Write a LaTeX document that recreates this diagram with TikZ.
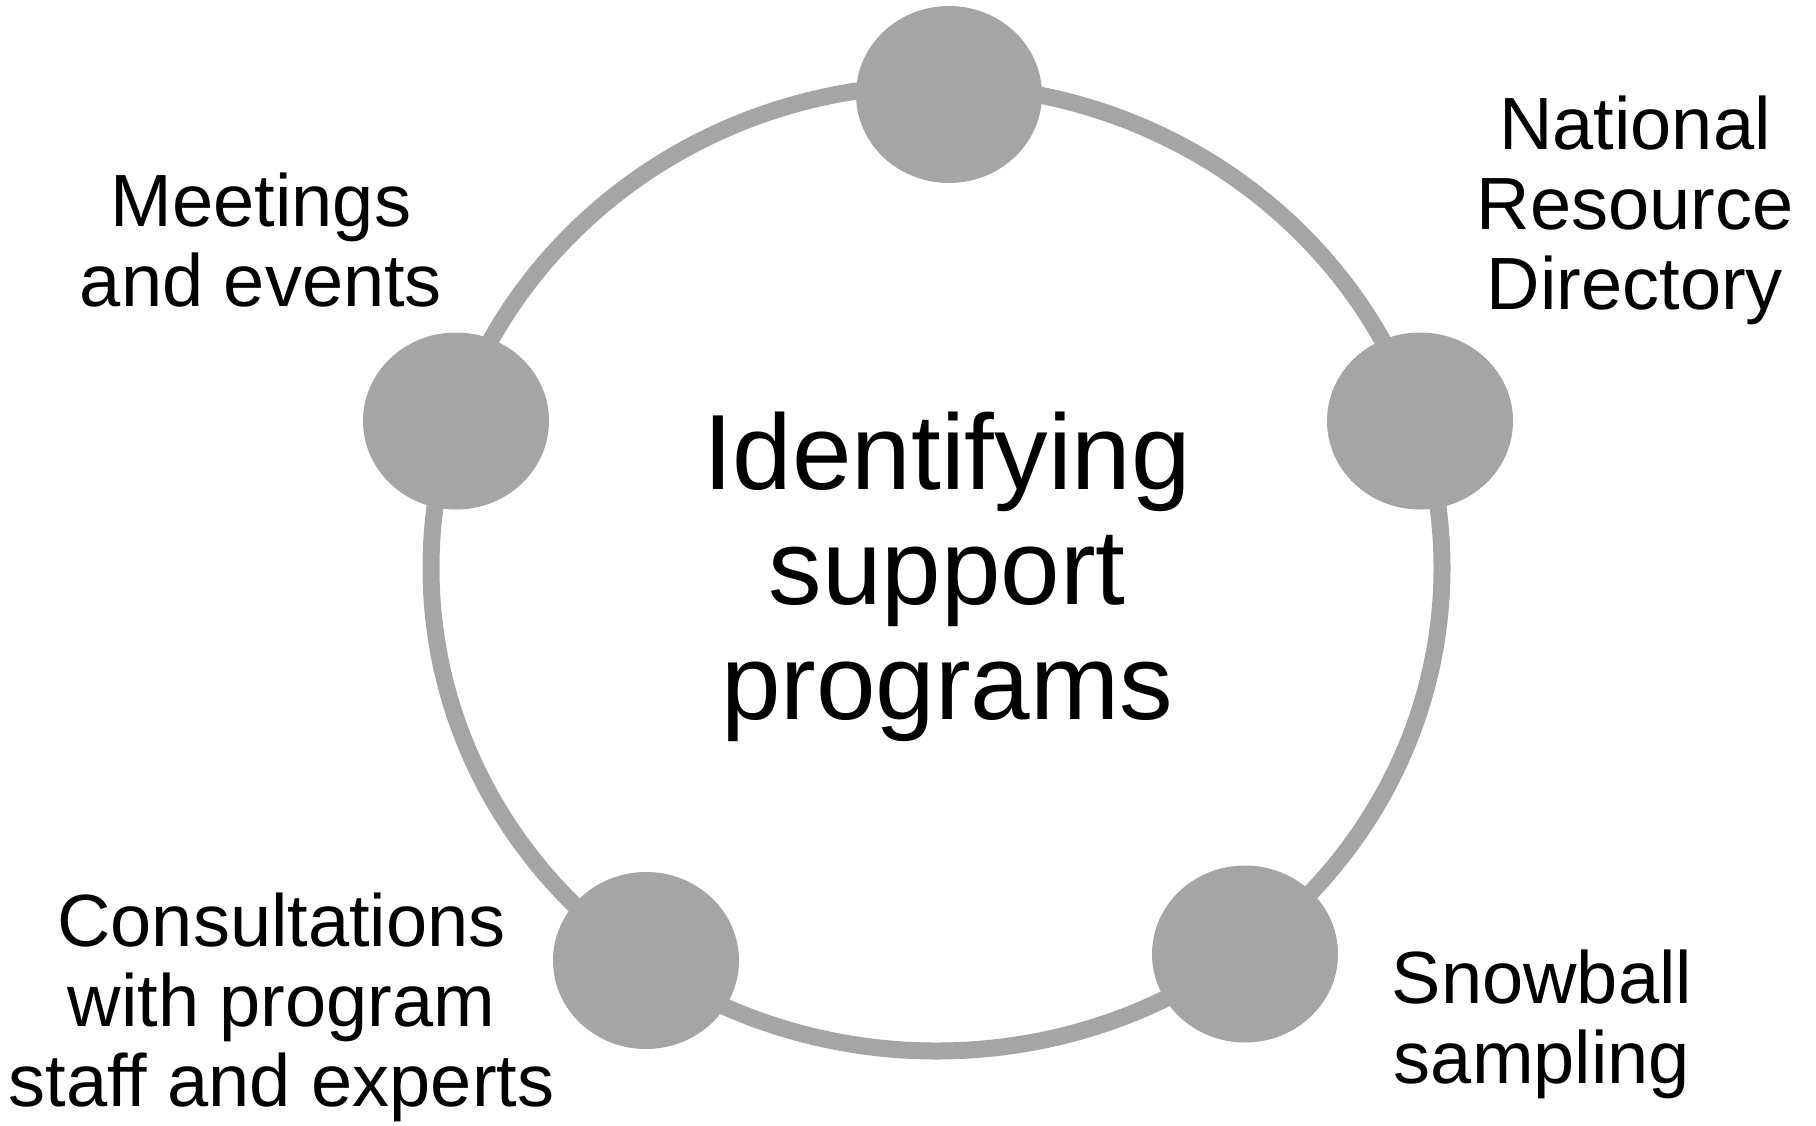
\documentclass[tikz,border=0pt]{standalone}
\usepackage{fontspec}
\setmainfont{Liberation Sans}
\usetikzlibrary{shapes.geometric}
\definecolor{ringgray}{RGB}{165,165,165}
\begin{document}
\begin{tikzpicture}[x=1pt,y=-1pt,
  dot/.style={ellipse, fill=ringgray, minimum width=186pt, minimum height=177pt, inner sep=0pt},
  lbl/.style={align=center, font=\fontsize{74}{80}\selectfont, inner sep=0pt}]
\useasboundingbox (0,0) rectangle (1816,1125);
\node[ellipse, draw=ringgray, line width=17pt, minimum width=1011pt, minimum height=966pt, inner sep=0pt] (ring) at (936.5,568) {};
\node[dot] (top) at (949,94.5) {};
\node[dot] (right) at (1420,421) {};
\node[dot] (bright) at (1245,954) {};
\node[dot] (bleft) at (646,960.5) {};
\node[dot] (left) at (456,421) {};
\node[align=center, inner sep=0pt, font=\fontsize{107}{115}\selectfont] (title) at (947,577) {Identifying\\support\\programs};
\node[lbl] (meet) at (261,239.6) {Meetings\\and events};
\node[lbl] (nrd) at (1635,210.3) {National\\Resource\\Directory};
\node[lbl] (cons) at (281.5,1007.6) {Consultations\\with program\\staff and experts};
\node[lbl] (snow) at (1542,1024) {Snowball\\sampling};
\end{tikzpicture}
\end{document}
